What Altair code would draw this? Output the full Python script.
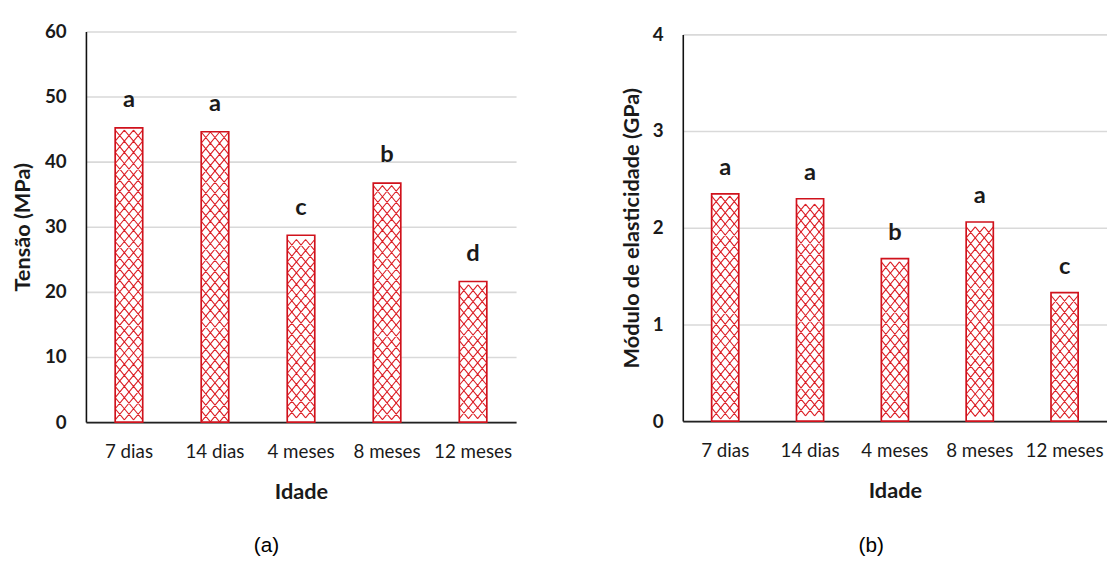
import altair as alt
import pandas as pd

categories = ["7 dias", "14 dias", "4 meses", "8 meses", "12 meses"]
tensao = [45.2, 44.6, 28.7, 36.7, 21.6]
tensao_letters = ["a", "a", "c", "b", "d"]
modulo = [2.35, 2.30, 1.68, 2.06, 1.33]
modulo_letters = ["a", "a", "b", "a", "c"]
tensao_ticks = [0, 10, 20, 30, 40, 50, 60]
modulo_ticks = [0, 1, 2, 3, 4]

FONT = "Lato"
TXT = "#1a1a1a"
RED = "#d0121c"
HATCH = "#dc2027"


def hatch_path(h):
    xs = [-1, -1 / 3, 1 / 3, 1]
    parts = []
    for i in range(3):
        x0, x1 = xs[i], xs[i + 1]
        parts.append(f"M{x0:.4f},{-h:.4f}L{x1:.4f},{h:.4f}M{x0:.4f},{h:.4f}L{x1:.4f},{-h:.4f}")
    return "".join(parts)


def panel(values, letters, ticks, ytitle, pitch, width, height, yrange,
          sym_w, caption, cap_x, cap_y, title_pad, dy):
    df = pd.DataFrame({"Idade": categories, "v": values, "lab": letters})
    rows = []
    for c, v in zip(categories, values):
        n = int(v // pitch)
        off = (v - n * pitch) / 2
        for k in range(n):
            rows.append({"Idade": c, "y": off + (k + 0.5) * pitch})
    hatch = pd.DataFrame(rows)

    xscale = alt.Scale(paddingInner=0.68, paddingOuter=0.34)
    yscale = alt.Scale(domain=[ticks[0], ticks[-1]], nice=False, range=yrange)
    xaxis = alt.Axis(
        title="Idade", labelAngle=0, ticks=False, tickSize=0, labelPadding=21,
        labelFont=FONT, labelFontSize=19, labelColor=TXT, labelFontWeight="normal",
        titleFont=FONT, titleFontSize=22, titleFontWeight="bold", titleColor=TXT,
        titlePadding=20, domainColor="#222222", domainWidth=1.8, grid=False,
    )
    yaxis = alt.Axis(
        title=ytitle, values=ticks, format="d", ticks=False, tickSize=0,
        labelPadding=20, labelFont=FONT, labelFontSize=19, labelFontWeight="bold",
        labelColor=TXT, titleFont=FONT, titleFontSize=22, titleFontWeight="bold",
        titleColor=TXT, titlePadding=title_pad, domainColor="#111111",
        domainWidth=1.6, grid=True, gridColor="#d9d9d9", gridWidth=1.6,
    )
    x = alt.X("Idade:N", sort=categories, scale=xscale, axis=xaxis)
    base = alt.Chart(df).encode(x=x)
    fill = base.mark_bar(fill="white").encode(
        y=alt.Y("v:Q", scale=yscale, axis=yaxis)
    )
    h = (pitch * (abs(yrange[0] - yrange[1]) / (ticks[-1] - ticks[0]))) / (sym_w / 2) / 2
    lattice = alt.Chart(hatch).mark_point(
        shape=hatch_path(h), size=sym_w * sym_w, filled=False,
        stroke=HATCH, strokeWidth=1.1, opacity=1,
    ).encode(
        x=alt.X("Idade:N", sort=categories, scale=xscale),
        y=alt.Y("y:Q", scale=yscale),
    )
    outline = base.mark_bar(fillOpacity=0, stroke=RED, strokeWidth=1.7).encode(
        y=alt.Y("v:Q", scale=yscale)
    )
    text = base.mark_text(
        dy=dy, baseline="alphabetic", font=FONT, fontSize=24,
        fontWeight="bold", color=TXT,
    ).encode(y=alt.Y("v:Q", scale=yscale), text="lab:N")
    cap = alt.Chart(pd.DataFrame({"t": [caption]})).mark_text(
        font="Liberation Sans", fontSize=21, color="#000000", baseline="middle",
    ).encode(x=alt.value(cap_x), y=alt.value(cap_y), text="t:N")
    return alt.layer(fill, lattice, outline, text, cap).properties(
        width=width, height=height
    )


left = panel(tensao, tensao_letters, tensao_ticks, "Tensão (MPa)", 1.712,
             436, 396, [396, 0], 27.9, "(a)", 183, 522, 10, -21)
right = panel(modulo, modulo_letters, modulo_ticks, "Módulo de elasticidade (GPa)",
              0.1153, 430, 395, [395, 3], 27.5, "(b)", 191, 522, 9, -19)

chart = alt.hconcat(left, right, spacing=169, bounds="flush").properties(
    padding={"left": 3, "top": 11, "right": 0, "bottom": 0},
    background="white",
).configure_view(stroke=None)

chart.save("out.html", embed_options={"renderer": "svg", "actions": False})
